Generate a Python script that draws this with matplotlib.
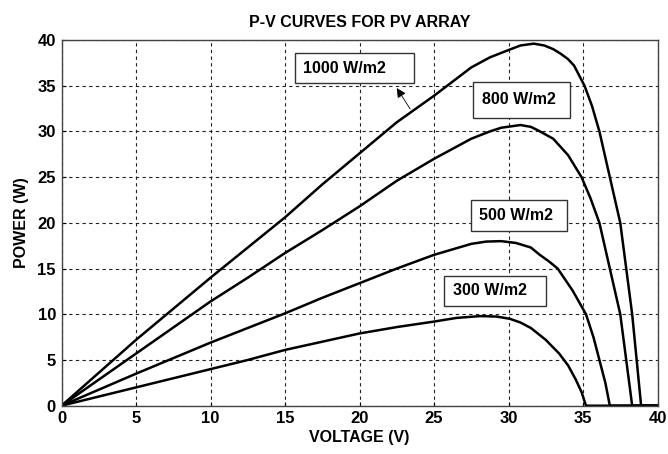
import matplotlib
matplotlib.use("Agg")
import matplotlib.pyplot as plt
from matplotlib.patches import Rectangle

plt.rcParams['font.family'] = ['Liberation Sans', 'DejaVu Sans']

# P-V readings for each irradiance level (voltage in V, power in W)
v_1000 = [0, 2.5, 5, 7.5, 10, 12.5, 15, 17.5, 20, 22.5, 25, 27.5, 28.75, 30, 30.8, 31.7,
          32.4, 33.0, 33.5, 34.0, 34.4, 35.1, 35.6, 36.1, 36.8, 37.5, 37.9, 38.3, 38.6,
          38.9, 40]
p_1000 = [0, 3.6, 7.2, 10.6, 14.0, 17.3, 20.6, 24.2, 27.6, 31.0, 33.9, 37.0, 38.1, 38.9, 39.4,
          39.6, 39.4, 39.0, 38.5, 37.9, 37.2, 35.0, 32.8, 30.0, 25.0, 20.0, 15.0, 10.0, 5.0,
          0, 0]

v_800 = [0, 2.5, 5, 7.5, 10, 12.5, 15, 17.5, 20, 22.5, 25, 27.5, 28.75, 29.5, 30.8,
         31.5, 32.0, 33.0, 34.0, 34.9, 35.5, 36.1, 36.8, 37.5, 37.9, 38.3, 40]
p_800 = [0, 2.85, 5.7, 8.55, 11.4, 14.0, 16.7, 19.2, 21.8, 24.6, 27.0, 29.2, 30.0, 30.4, 30.7,
         30.5, 30.1, 29.2, 27.4, 25.0, 22.7, 20.0, 15.0, 10.0, 5.0, 0, 0]

v_500 = [0, 2.5, 5, 7.5, 10, 12.5, 15, 17.5, 20, 22.5, 25, 27.5, 28.5, 29.5, 30.5,
         31.5, 32.1, 32.7, 33.3, 34.3, 35.2, 35.7, 36.1, 36.5, 36.8, 40]
p_500 = [0, 1.75, 3.5, 5.2, 6.9, 8.5, 10.1, 11.8, 13.4, 15.0, 16.5, 17.7, 17.95, 18.0, 17.8,
         17.3, 16.5, 15.8, 15.0, 12.6, 10.0, 7.5, 5.0, 2.5, 0, 0]

v_300 = [0, 2.5, 5, 7.5, 10, 12.5, 15, 17.5, 20, 22.5, 25, 26.5, 28.1, 29.2, 30.1,
         30.8, 31.5, 32.5, 33.4, 34.0, 34.5, 34.9, 35.2, 40]
p_300 = [0, 1.0, 2.0, 3.0, 4.0, 5.0, 6.1, 7.0, 7.9, 8.6, 9.2, 9.6, 9.8, 9.75, 9.5,
         9.1, 8.5, 7.2, 5.7, 4.4, 2.9, 1.5, 0, 0]

labels = ['1000 W/m2', '800 W/m2', '500 W/m2', '300 W/m2']

fig = plt.figure(figsize=(6.68, 4.54), dpi=100)
ax = fig.add_axes([0.0921, 0.1064, 0.8922, 0.8055])

for v, p in [(v_1000, p_1000), (v_800, p_800), (v_500, p_500), (v_300, p_300)]:
    ax.plot(v, p, color='black', lw=1.8, solid_joinstyle='round')

ax.set_xlim(0, 40)
ax.set_ylim(0, 40)
ax.set_xticks(range(0, 41, 5))
ax.set_yticks(range(0, 41, 5))
ax.grid(True, color='#222222', linestyle=(0, (3, 3)), linewidth=0.8)
ax.tick_params(direction='in', length=3, labelsize=12, pad=4)
for lbl in ax.get_xticklabels() + ax.get_yticklabels():
    lbl.set_fontweight('bold')
for s in ax.spines.values():
    s.set_color('#444444')
    s.set_linewidth(1.0)

ax.set_title('P-V CURVES FOR PV ARRAY', fontsize=11.5, fontweight='bold', pad=9)
ax.set_xlabel('VOLTAGE (V)', fontsize=11.5, fontweight='bold', labelpad=3)
ax.set_ylabel('POWER (W)', fontsize=11.5, fontweight='bold', labelpad=6)

# label boxes: (x0, y0, width, height) in data units, and text start
boxes = [(15.69, 35.27, 7.99, 3.29, 16.2),
         (27.64, 31.51, 6.49, 3.91, 28.2),
         (27.46, 19.08, 6.49, 3.37, 28.0),
         (25.69, 10.93, 6.83, 3.29, 26.25)]
for (x0, y0, w, h, tx), txt in zip(boxes, labels):
    ax.add_patch(Rectangle((x0, y0), w, h, facecolor='white', edgecolor='#333333',
                           lw=1.0, zorder=3))
    ax.text(tx, y0 + h / 2, txt, fontsize=11.5, fontweight='bold', ha='left',
            va='center', zorder=4)

ax.annotate('', xy=(22.4, 35.0), xytext=(23.5, 32.2),
            arrowprops=dict(arrowstyle='-|>', color='black', lw=0.6,
                            mutation_scale=14), zorder=5)

fig.savefig('out.png', dpi=100)
